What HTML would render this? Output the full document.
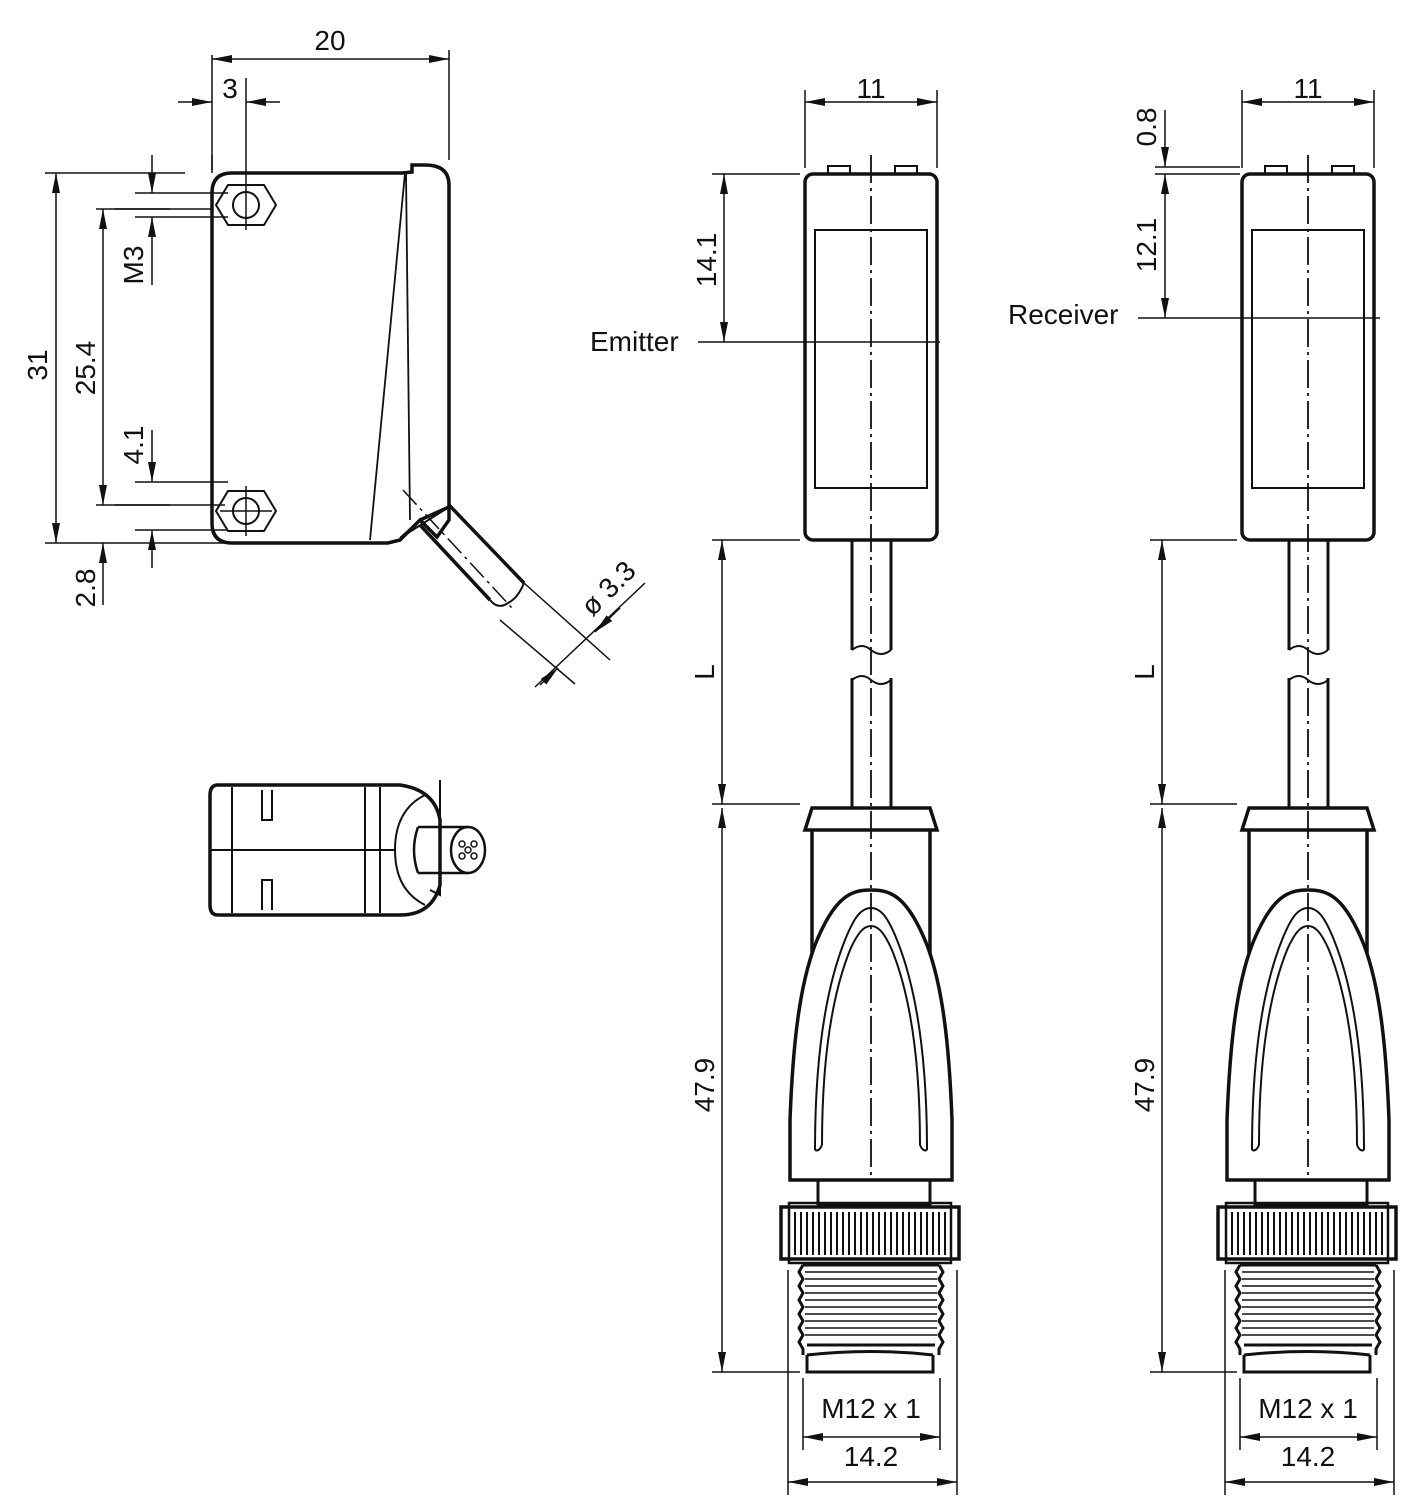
<!DOCTYPE html>
<html><head><meta charset="utf-8"><style>
html,body{margin:0;padding:0;background:#fff}
svg{display:block}
text{font-family:"Liberation Sans",sans-serif;font-size:28px;fill:#111}
</style></head><body>
<svg width="1417" height="1512" viewBox="0 0 1417 1512" xmlns="http://www.w3.org/2000/svg">
<defs>
<marker id="a" viewBox="0 0 20 8" refX="20" refY="4" markerWidth="20" markerHeight="8" orient="auto-start-reverse" markerUnits="userSpaceOnUse"><path d="M0,0 L20,4 L0,8 Z" fill="#111"/></marker>
<g id="sensor">
 <path d="M828,174 v-8 h22 v8 M895,174 v-8 h22 v8" fill="none" stroke="#111" stroke-width="2"/>
 <rect x="805" y="174" width="132" height="366" rx="8" fill="none" stroke="#111" stroke-width="3.5"/>
 <rect x="815" y="230" width="112" height="258" fill="none" stroke="#111" stroke-width="2"/>
 <path d="M852,540 V650 M891,540 V650 M852,678 V808 M891,678 V808" stroke="#111" stroke-width="3" fill="none"/>
 <path d="M852,650 q10,-8 19,0 q10,8 20,0 M852,680 q10,-8 19,0 q10,8 20,0" stroke="#111" stroke-width="2" fill="none"/>
 <path d="M812,808 H930 L937,830 H805 Z" fill="none" stroke="#111" stroke-width="3.5"/>
 <path d="M812,830 V960 M930,830 V960" stroke="#111" stroke-width="3.5" fill="none"/>
 <path d="M790,1180 L790,1120 C793,1040 800,985 815,945 C835,895 852,890 871,890 C890,890 907,895 927,945 C942,985 949,1040 952,1120 L952,1180 Z" fill="#fff" stroke="#111" stroke-width="3.5"/>
 <path d="M815,1150 C815,1060 825,990 845,940 C855,915 862,908 871,908 C880,908 887,915 897,940 C917,990 927,1060 927,1150" fill="none" stroke="#111" stroke-width="2"/>
 <path d="M822,1145 C822,1060 832,995 850,950 C858,932 864,926 871,926 C878,926 884,932 892,950 C910,995 920,1060 920,1145" fill="none" stroke="#111" stroke-width="2"/>
 <path d="M815,1150 q4,2 7,-5 M927,1150 q-4,2 -7,-5" fill="none" stroke="#111" stroke-width="2"/>
 <rect x="818" y="1180" width="112" height="25" fill="none" stroke="#111" stroke-width="3"/>
 <rect x="781" y="1207" width="178" height="52" fill="none" stroke="#111" stroke-width="3.5"/>
 <rect x="789" y="1203" width="162" height="60" fill="none" stroke="#111" stroke-width="2.5"/>
 <path d="M795,1212V1255M801,1212V1255M807,1212V1255M813,1212V1255M819,1212V1255M825,1212V1255M831,1212V1255M837,1212V1255M843,1212V1255M849,1212V1255M855,1212V1255M861,1212V1255M867,1212V1255M873,1212V1255M879,1212V1255M885,1212V1255M891,1212V1255M897,1212V1255M903,1212V1255M909,1212V1255M915,1212V1255M921,1212V1255M927,1212V1255M933,1212V1255M939,1212V1255M945,1212V1255" stroke="#111" stroke-width="2"/>
 <path d="M803,1265 H939 M803,1265 l-4,7 4,7 -4,7 4,7 -4,7 4,7 -4,7 4,7 -4,7 4,7 -4,7 4,7 V1355 M939,1265 l4,7 -4,7 4,7 -4,7 4,7 -4,7 4,7 -4,7 4,7 -4,7 4,7 -4,7 V1355" fill="none" stroke="#111" stroke-width="3"/>
 <path d="M805,1272H937M805,1279H937M805,1286H937M805,1293H937M805,1300H937M805,1307H937M805,1314H937M805,1321H937M805,1328H937M805,1335H937" stroke="#111" stroke-width="1.5"/>
 <path d="M807,1345 H935 M807,1355 V1372 H933 V1355 M807,1355 Q871,1348 933,1355" fill="none" stroke="#111" stroke-width="3"/>
 <line x1="871" y1="155" x2="871" y2="1180" stroke="#111" stroke-width="1.8" stroke-dasharray="28,5,3,5"/>
</g>
</defs>
<g fill="none" stroke="#111">
<use href="#sensor"/>
<use href="#sensor" transform="translate(437,0)"/>

<line x1="805" y1="90" x2="805" y2="168" stroke-width="1.5"/>
<line x1="937" y1="90" x2="937" y2="168" stroke-width="1.5"/>
<line x1="805" y1="102" x2="937" y2="102" stroke-width="1.5" marker-start="url(#a)" marker-end="url(#a)"/>
<line x1="712" y1="174" x2="800" y2="174" stroke-width="1.5"/>
<line x1="698" y1="342" x2="940" y2="342" stroke-width="1.5"/>
<line x1="724" y1="174" x2="724" y2="342" stroke-width="1.5" marker-start="url(#a)" marker-end="url(#a)"/>
<line x1="712" y1="540" x2="800" y2="540" stroke-width="1.5"/>
<line x1="712" y1="804" x2="800" y2="804" stroke-width="1.5"/>
<line x1="722" y1="540" x2="722" y2="804" stroke-width="1.5" marker-start="url(#a)" marker-end="url(#a)"/>
<line x1="722" y1="808" x2="722" y2="1372" stroke-width="1.5" marker-start="url(#a)" marker-end="url(#a)"/>
<line x1="712" y1="1372" x2="800" y2="1372" stroke-width="1.5"/>
<line x1="803" y1="1378" x2="803" y2="1450" stroke-width="1.5"/>
<line x1="940" y1="1378" x2="940" y2="1450" stroke-width="1.5"/>
<line x1="803" y1="1437" x2="940" y2="1437" stroke-width="1.5" marker-start="url(#a)" marker-end="url(#a)"/>
<line x1="788" y1="1270" x2="788" y2="1495" stroke-width="1.5"/>
<line x1="957" y1="1270" x2="957" y2="1495" stroke-width="1.5"/>
<line x1="788" y1="1482" x2="957" y2="1482" stroke-width="1.5" marker-start="url(#a)" marker-end="url(#a)"/>

<line x1="1242" y1="90" x2="1242" y2="168" stroke-width="1.5"/>
<line x1="1374" y1="90" x2="1374" y2="168" stroke-width="1.5"/>
<line x1="1242" y1="102" x2="1374" y2="102" stroke-width="1.5" marker-start="url(#a)" marker-end="url(#a)"/>
<line x1="1155" y1="167" x2="1240" y2="167" stroke-width="1.5"/>
<line x1="1155" y1="174" x2="1240" y2="174" stroke-width="1.5"/>
<line x1="1165" y1="110" x2="1165" y2="167" stroke-width="1.5" marker-end="url(#a)"/>
<line x1="1165" y1="174" x2="1165" y2="318" stroke-width="1.5" marker-start="url(#a)" marker-end="url(#a)"/>
<line x1="1138" y1="318" x2="1380" y2="318" stroke-width="1.5"/>
<line x1="1150" y1="540" x2="1237" y2="540" stroke-width="1.5"/>
<line x1="1150" y1="804" x2="1237" y2="804" stroke-width="1.5"/>
<line x1="1162" y1="540" x2="1162" y2="804" stroke-width="1.5" marker-start="url(#a)" marker-end="url(#a)"/>
<line x1="1162" y1="808" x2="1162" y2="1372" stroke-width="1.5" marker-start="url(#a)" marker-end="url(#a)"/>
<line x1="1150" y1="1372" x2="1237" y2="1372" stroke-width="1.5"/>
<line x1="1240" y1="1378" x2="1240" y2="1450" stroke-width="1.5"/>
<line x1="1377" y1="1378" x2="1377" y2="1450" stroke-width="1.5"/>
<line x1="1240" y1="1437" x2="1377" y2="1437" stroke-width="1.5" marker-start="url(#a)" marker-end="url(#a)"/>
<line x1="1225" y1="1270" x2="1225" y2="1495" stroke-width="1.5"/>
<line x1="1394" y1="1270" x2="1394" y2="1495" stroke-width="1.5"/>
<line x1="1225" y1="1482" x2="1394" y2="1482" stroke-width="1.5" marker-start="url(#a)" marker-end="url(#a)"/>

<path d="M232,173 H402 L412,172 V165 H425 Q449,165 449,185 V520 L437,537 L420,520 L400,540 L388,543 H232 Q212,543 212,523 V193 Q212,173 232,173 Z" stroke-width="3.5"/>
<path d="M405,173 L370,540 M406,173 L410,520" stroke-width="1.8"/>
<path d="M212,173 V155" stroke-width="1.5"/>
<path d="M216,205 l12,-20 h36 l12,20 -12,20 h-36 z" stroke-width="2"/>
<circle cx="246" cy="205" r="13" stroke-width="2"/>
<path d="M216,511 l12,-20 h36 l12,20 -12,20 h-36 z" stroke-width="2"/>
<circle cx="246" cy="511" r="13" stroke-width="2"/>
<path d="M246,180 V230 M220,511 H272 M246,486 V536" stroke-width="1.5"/>
<path d="M400,538 L420,520 L449,507 Z" stroke-width="2"/>
<path d="M420,520 L449,507 M420,525 L490,600 M449,505 L524,583" stroke-width="3.5"/>
<path d="M490,600 q8,10 18,3 q10,-5 16,-20" stroke-width="2"/>
<line x1="403" y1="490" x2="512" y2="608" stroke-width="1.5" stroke-dasharray="20,5,3,5"/>
<line x1="212" y1="55" x2="212" y2="170" stroke-width="1.5"/>
<line x1="449" y1="50" x2="449" y2="160" stroke-width="1.5"/>
<line x1="212" y1="59" x2="449" y2="59" stroke-width="1.5" marker-start="url(#a)" marker-end="url(#a)"/>
<line x1="246" y1="78" x2="246" y2="180" stroke-width="1.5"/>
<line x1="178" y1="102" x2="212" y2="102" stroke-width="1.5" marker-end="url(#a)"/>
<line x1="280" y1="102" x2="246" y2="102" stroke-width="1.5" marker-end="url(#a)"/>
<line x1="45" y1="173" x2="185" y2="173" stroke-width="1.5"/>
<line x1="45" y1="543" x2="225" y2="543" stroke-width="1.5"/>
<line x1="56" y1="173" x2="56" y2="543" stroke-width="1.5" marker-start="url(#a)" marker-end="url(#a)"/>
<line x1="96" y1="209" x2="170" y2="209" stroke-width="1.5"/>
<line x1="135" y1="193" x2="228" y2="193" stroke-width="1.5"/>
<line x1="135" y1="217" x2="228" y2="217" stroke-width="1.5"/>
<line x1="115" y1="209" x2="212" y2="209" stroke-width="1.5"/>
<line x1="103" y1="209" x2="103" y2="505" stroke-width="1.5" marker-start="url(#a)" marker-end="url(#a)"/>
<line x1="103" y1="543" x2="103" y2="605" stroke-width="1.5" marker-start="url(#a)"/>
<line x1="96" y1="505" x2="170" y2="505" stroke-width="1.5"/>
<line x1="115" y1="505" x2="225" y2="505" stroke-width="1.5"/>
<line x1="135" y1="482" x2="228" y2="482" stroke-width="1.5"/>
<line x1="135" y1="530" x2="228" y2="530" stroke-width="1.5"/>
<line x1="152" y1="155" x2="152" y2="193" stroke-width="1.5" marker-end="url(#a)"/>
<line x1="152" y1="285" x2="152" y2="217" stroke-width="1.5" marker-end="url(#a)"/>
<line x1="152" y1="430" x2="152" y2="482" stroke-width="1.5" marker-end="url(#a)"/>
<line x1="152" y1="568" x2="152" y2="530" stroke-width="1.5" marker-end="url(#a)"/>
<line x1="524" y1="583" x2="610" y2="660" stroke-width="1.5"/>
<line x1="500" y1="620" x2="575" y2="684" stroke-width="1.5"/>
<line x1="535" y1="687" x2="645" y2="583" stroke-width="1.5"/>
<line x1="620" y1="608" x2="595" y2="632" stroke-width="1.5" marker-end="url(#a)"/>
<line x1="540" y1="685" x2="558" y2="668" stroke-width="1.5" marker-end="url(#a)"/>

<path d="M218,785 H400 Q435,790 440,820 L440,885 Q432,915 400,915 H218 Q210,915 210,905 V795 Q210,785 218,785 Z" stroke-width="3.5"/>
<path d="M232,787 V913 M210,850 H395 M365,787 V913 M380,787 V913" stroke-width="2"/>
<path d="M262,790 V820 h10 V790 M262,910 V880 h10 V910" stroke-width="2"/>
<path d="M440,780 V895 L430,890" stroke-width="2"/>
<path d="M425,795 Q395,810 395,850 Q395,890 425,905" stroke-width="2"/>
<path d="M418,827 H468 M418,873 H468 M418,827 Q410,850 418,873" stroke-width="2.5"/>
<ellipse cx="468" cy="850" rx="17" ry="23" stroke-width="2.5"/>
<circle cx="462" cy="844" r="3" stroke-width="1.5"/><circle cx="474" cy="844" r="3" stroke-width="1.5"/><circle cx="462" cy="856" r="3" stroke-width="1.5"/><circle cx="474" cy="856" r="3" stroke-width="1.5"/><circle cx="468" cy="850" r="3" stroke-width="1.5"/>
</g>

<text x="330" y="50" text-anchor="middle">20</text>
<text x="230" y="98" text-anchor="middle">3</text>
<text x="871" y="98" text-anchor="middle">11</text>
<text x="1308" y="98" text-anchor="middle">11</text>
<text x="590" y="351">Emitter</text>
<text x="1008" y="324">Receiver</text>
<text x="871" y="1418" text-anchor="middle">M12 x 1</text>
<text x="1308" y="1418" text-anchor="middle">M12 x 1</text>
<text x="871" y="1466" text-anchor="middle">14.2</text>
<text x="1308" y="1466" text-anchor="middle">14.2</text>
<text transform="translate(47,365) rotate(-90)" text-anchor="middle">31</text>
<text transform="translate(95,368) rotate(-90)" text-anchor="middle">25.4</text>
<text transform="translate(143,265) rotate(-90)" text-anchor="middle">M3</text>
<text transform="translate(143,445) rotate(-90)" text-anchor="middle">4.1</text>
<text transform="translate(95,588) rotate(-90)" text-anchor="middle">2.8</text>
<text transform="translate(716,260) rotate(-90)" text-anchor="middle">14.1</text>
<text transform="translate(714,672) rotate(-90)" text-anchor="middle">L</text>
<text transform="translate(714,1085) rotate(-90)" text-anchor="middle">47.9</text>
<text transform="translate(1156,127) rotate(-90)" text-anchor="middle">0.8</text>
<text transform="translate(1156,245) rotate(-90)" text-anchor="middle">12.1</text>
<text transform="translate(1154,672) rotate(-90)" text-anchor="middle">L</text>
<text transform="translate(1154,1085) rotate(-90)" text-anchor="middle">47.9</text>
<text transform="translate(615,595) rotate(-45)" text-anchor="middle">ø 3.3</text>
</svg>
</body></html>
